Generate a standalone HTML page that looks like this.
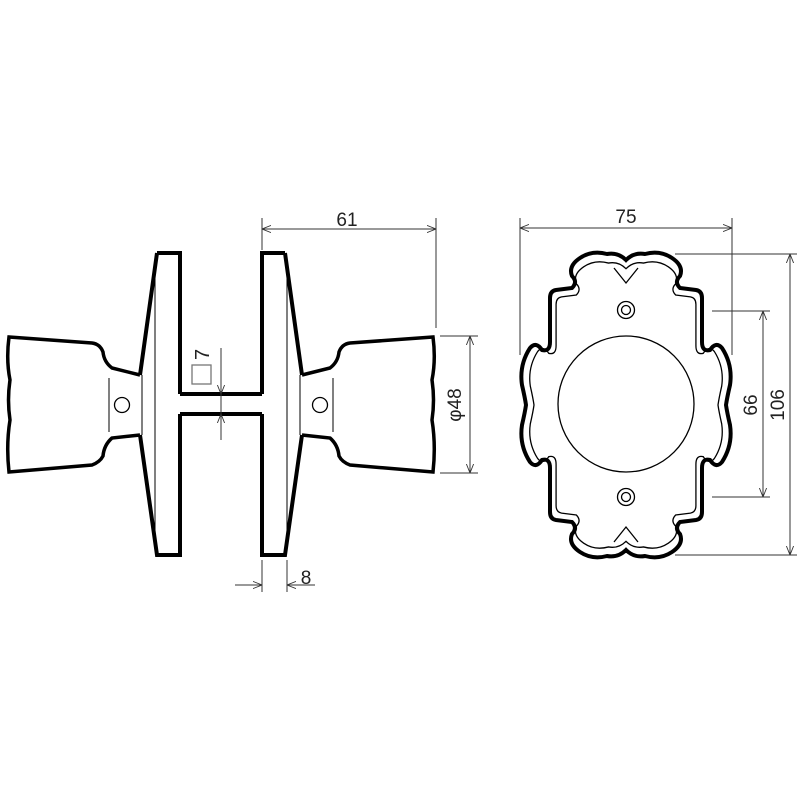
<!DOCTYPE html>
<html><head><style>body{margin:0;background:#fff}svg{display:block}text{font-family:"Liberation Sans",sans-serif;fill:#222}</style></head>
<body>
<svg width="800" height="800" viewBox="0 0 800 800" xmlns="http://www.w3.org/2000/svg">
<defs>
<marker id="a" viewBox="0 0 10 10" refX="10" refY="5" markerWidth="9" markerHeight="9" orient="auto-start-reverse" markerUnits="userSpaceOnUse"><path d="M0,1 L10,5 L0,9" fill="none" stroke="#333" stroke-width="1"/></marker>
<g id="knob">
<path d="M157,253 L180,253 L180,394 M180,414 L180,555 L157,555 L140,435 M140,375 L157,253" fill="none" stroke="#000" stroke-width="4"/>
<line x1="155" y1="262" x2="155" y2="546" stroke="#000" stroke-width="1"/>
<path d="M140,375 L112,368 Q104,362 103,352 Q100,344 92,343 L9,337 Q6,360 10,380 Q7,400 10,420 Q6,445 9,472 L92,465 Q100,462 103,456 Q104,445 112,438 L140,435" fill="none" stroke="#000" stroke-width="3.5"/>
<line x1="142" y1="375" x2="142" y2="435" stroke="#000" stroke-width="1"/>
<line x1="109" y1="378" x2="109" y2="432" stroke="#000" stroke-width="1"/>
<circle cx="122" cy="405" r="7.5" fill="none" stroke="#000" stroke-width="1.3"/>
</g>
</defs>
<use href="#knob"/>
<use href="#knob" transform="translate(442,0) scale(-1,1)"/>
<line x1="180" y1="394" x2="262" y2="394" stroke="#000" stroke-width="4"/>
<line x1="180" y1="414" x2="262" y2="414" stroke="#000" stroke-width="4"/>
<g stroke="#333" stroke-width="1" fill="none">
<line x1="262" y1="218" x2="262" y2="250"/><line x1="436" y1="218" x2="436" y2="328"/>
<line x1="262" y1="229" x2="436" y2="229" marker-start="url(#a)" marker-end="url(#a)"/>
<line x1="440" y1="336" x2="478" y2="336"/><line x1="440" y1="473" x2="478" y2="473"/>
<line x1="470" y1="336" x2="470" y2="473" marker-start="url(#a)" marker-end="url(#a)"/>
<line x1="221" y1="348" x2="221" y2="440"/>
<line x1="221" y1="378" x2="221" y2="394" marker-end="url(#a)"/>
<line x1="221" y1="430" x2="221" y2="414" marker-end="url(#a)"/>
<line x1="262" y1="560" x2="262" y2="592"/><line x1="287" y1="560" x2="287" y2="592"/>
<line x1="235" y1="585" x2="262" y2="585" marker-end="url(#a)"/>
<line x1="315" y1="585" x2="287" y2="585" marker-end="url(#a)"/>
<rect x="192" y="365" width="19" height="19" stroke="#777" stroke-width="1.3"/>
</g>
<text x="347" y="226" font-size="19" text-anchor="middle">61</text>
<text x="306" y="584" font-size="19" text-anchor="middle">8</text>
<text transform="translate(209,360) rotate(-90)" font-size="20">7</text>
<text transform="translate(461,405) rotate(-90)" font-size="19" text-anchor="middle">φ48</text>

<path d="M626,260 Q634,252 645,254 Q660,250 672,258 Q684,266 680,276 Q674,282 680,288 L696,290 Q702,291 702,298 L702,342 Q702,352 710,350 Q716,341 722,348 Q733,365 730,385 Q727,398 726,405 Q727,412 730,425 Q733,445 722,462 Q716,469 710,460 Q702,458 702,468 L702,512 Q702,519 696,520 L680,522 Q674,528 680,534 Q684,544 672,552 Q660,560 645,556 Q634,558 626,550 Q618,558 607,556 Q592,560 580,552 Q568,544 572,534 Q578,528 572,522 L556,520 Q550,519 550,512 L550,468 Q550,458 542,460 Q536,469 530,462 Q519,445 522,425 Q525,412 526,405 Q525,398 522,385 Q519,365 530,348 Q536,341 542,350 Q550,352 550,342 L550,298 Q550,291 556,290 L572,288 Q578,282 572,276 Q568,266 580,258 Q592,250 607,254 Q618,252 626,260 Z" fill="none" stroke="#000" stroke-width="4"/>
<path d="M626,260 Q634,252 645,254 Q660,250 672,258 Q684,266 680,276 Q674,282 680,288 L696,290 Q702,291 702,298 L702,342 Q702,352 710,350 Q716,341 722,348 Q733,365 730,385 Q727,398 726,405 Q727,412 730,425 Q733,445 722,462 Q716,469 710,460 Q702,458 702,468 L702,512 Q702,519 696,520 L680,522 Q674,528 680,534 Q684,544 672,552 Q660,560 645,556 Q634,558 626,550 Q618,558 607,556 Q592,560 580,552 Q568,544 572,534 Q578,528 572,522 L556,520 Q550,519 550,512 L550,468 Q550,458 542,460 Q536,469 530,462 Q519,445 522,425 Q525,412 526,405 Q525,398 522,385 Q519,365 530,348 Q536,341 542,350 Q550,352 550,342 L550,298 Q550,291 556,290 L572,288 Q578,282 572,276 Q568,266 580,258 Q592,250 607,254 Q618,252 626,260 Z" fill="none" stroke="#000" stroke-width="1.4" transform="translate(626,405) scale(0.92,0.94) translate(-626,-405)"/>
<path d="M614,268 L626,283 L638,268 M614,542 L626,527 L638,542" fill="none" stroke="#000" stroke-width="1.3"/>
<circle cx="626" cy="404" r="68" fill="none" stroke="#000" stroke-width="1.3"/>
<circle cx="626" cy="310" r="8.5" fill="none" stroke="#000" stroke-width="1.3"/>
<circle cx="626" cy="310" r="4.5" fill="none" stroke="#000" stroke-width="1.3"/>
<circle cx="626" cy="497" r="8.5" fill="none" stroke="#000" stroke-width="1.3"/>
<circle cx="626" cy="497" r="4.5" fill="none" stroke="#000" stroke-width="1.3"/>
<g stroke="#333" stroke-width="1" fill="none">
<line x1="520" y1="218" x2="520" y2="355"/><line x1="732" y1="218" x2="732" y2="355"/>
<line x1="520" y1="228" x2="732" y2="228" marker-start="url(#a)" marker-end="url(#a)"/>
<line x1="675" y1="254" x2="797" y2="254"/><line x1="675" y1="555" x2="797" y2="555"/>
<line x1="790" y1="254" x2="790" y2="555" marker-start="url(#a)" marker-end="url(#a)"/>
<line x1="712" y1="311" x2="770" y2="311"/><line x1="712" y1="497" x2="770" y2="497"/>
<line x1="763" y1="311" x2="763" y2="497" marker-start="url(#a)" marker-end="url(#a)"/>
</g>
<text x="626" y="223" font-size="19" text-anchor="middle">75</text>
<text transform="translate(757,405) rotate(-90)" font-size="19" text-anchor="middle">66</text>
<text transform="translate(784,405) rotate(-90)" font-size="19" text-anchor="middle">106</text>
</svg>
</body></html>
